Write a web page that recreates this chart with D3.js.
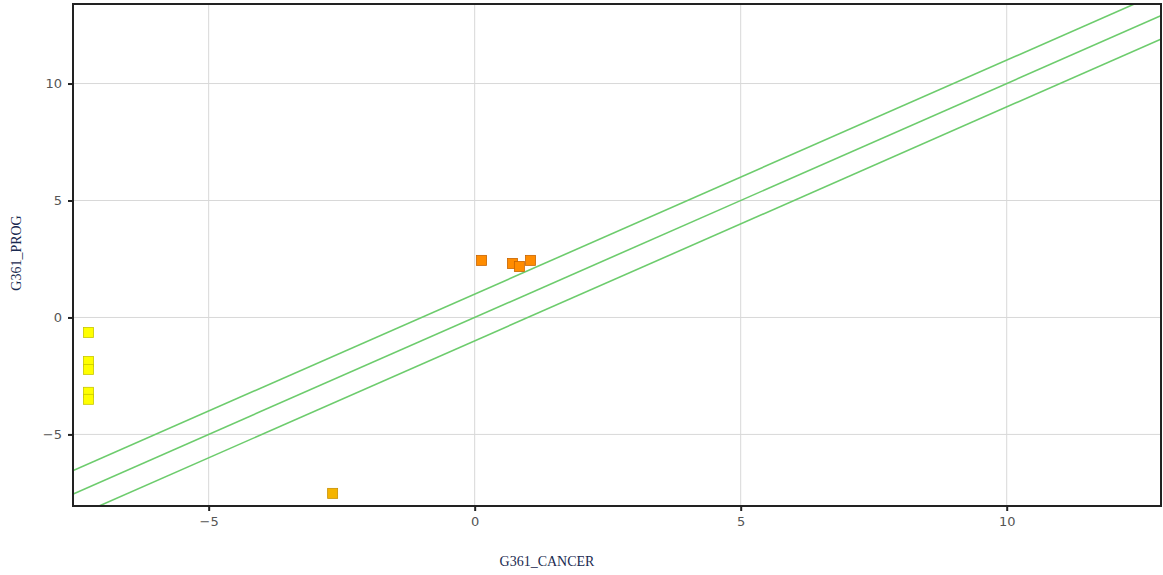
<!DOCTYPE html>
<html lang="en">
<head>
<meta charset="utf-8">
<script src="https://d3js.org/d3.v7.min.js"></script>
<style>
  body { margin: 0; background: #fff; }
  .tick text { font-family: "DejaVu Sans", Verdana, sans-serif; font-size: 13px; fill: #555; }
  .lbl { font-family: "Liberation Serif", "Times New Roman", serif; font-size: 14px; fill: #1a2a50; }
</style>
</head>
<body>
<svg width="1163" height="575"></svg>
<script>
// points
var cancer = [-7.26, -7.26, -7.26, -7.26, -7.26, 0.13, 0.71, 0.84, 1.05, -2.67];
var prog   = [-0.64, -1.88, -2.22, -3.20, -3.50, 2.44, 2.31, 2.18, 2.44, -7.52];
var group  = ["y", "y", "y", "y", "y", "o", "o", "o", "o", "g"];
var offsets = [1, 0, -1];   // y = x + offset
var xTicks = [-5, 0, 5, 10];
var yTicks = [-5, 0, 5, 10];

var fills = { y: "#ffff00", o: "#ff8c00", g: "#f5b400" };
var strokes = { y: "#c8c800", o: "#c86400", g: "#c89000" };

var svg = d3.select("svg");
var L = 73, R = 1161, T = 4, B = 506;
var x = d3.scaleLinear().domain([-7.55, 12.9]).range([L, R]);
var y = d3.scaleLinear().domain([-8.06, 13.4]).range([B, T]);

// grid
svg.append("g").selectAll("line").data(xTicks).enter().append("line")
  .attr("x1", d => x(d)).attr("x2", d => x(d)).attr("y1", T).attr("y2", B)
  .attr("stroke", "#d8d8d8");
svg.append("g").selectAll("line").data(yTicks).enter().append("line")
  .attr("y1", d => y(d)).attr("y2", d => y(d)).attr("x1", L).attr("x2", R)
  .attr("stroke", "#d8d8d8");

// diagonal lines
svg.append("clipPath").attr("id", "c").append("rect")
  .attr("x", L).attr("y", T).attr("width", R - L).attr("height", B - T);
var line = d3.line().x(d => x(d[0])).y(d => y(d[1]));
svg.append("g").attr("clip-path", "url(#c)").selectAll("path").data(offsets).enter().append("path")
  .attr("d", o => line([[-10, -10 + o], [15, 15 + o]]))
  .attr("fill", "none").attr("stroke", "#6dcc6d").attr("stroke-width", 1.6);

// points
svg.append("g").selectAll("rect").data(cancer).enter().append("rect")
  .attr("x", (d, i) => x(d) - 5).attr("y", (d, i) => y(prog[i]) - 5)
  .attr("width", 10).attr("height", 10)
  .attr("fill", (d, i) => fills[group[i]])
  .attr("stroke", (d, i) => strokes[group[i]]).attr("stroke-width", 0.8);

// frame
svg.append("rect").attr("x", L).attr("y", T).attr("width", R - L).attr("height", B - T)
  .attr("fill", "none").attr("stroke", "#222").attr("stroke-width", 2);

// axes
var xAxis = d3.axisBottom(x).tickValues(xTicks).tickSize(5).tickPadding(6)
  .tickFormat(d => d < 0 ? "\u2212" + Math.abs(d) : d);
svg.append("g").attr("transform", "translate(0," + B + ")").call(xAxis)
  .call(g => g.select(".domain").remove())
  .call(g => g.selectAll(".tick line").attr("stroke", "#222").attr("stroke-width", 2));
var yAxis = d3.axisLeft(y).tickValues(yTicks).tickSize(5).tickPadding(6)
  .tickFormat(d => d < 0 ? "\u2212" + Math.abs(d) : d);
svg.append("g").attr("transform", "translate(" + L + ",0)").call(yAxis)
  .call(g => g.select(".domain").remove())
  .call(g => g.selectAll(".tick line").attr("stroke", "#222").attr("stroke-width", 2));

svg.append("text").attr("class", "lbl").attr("x", 547).attr("y", 566)
  .attr("text-anchor", "middle").text("G361_CANCER");
svg.append("text").attr("class", "lbl").attr("transform", "translate(21,253) rotate(-90)")
  .attr("text-anchor", "middle").text("G361_PROG");
</script>
</body>
</html>
